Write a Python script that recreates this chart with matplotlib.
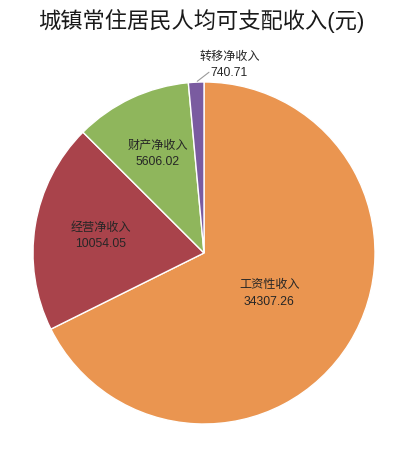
import numpy as np
import matplotlib
matplotlib.use('Agg')
import matplotlib.pyplot as plt

plt.rcParams['font.family'] = ['Liberation Sans', 'Noto Sans CJK SC', 'DejaVu Sans']

# data
categories = ['工资性收入', '经营净收入', '财产净收入', '转移净收入']
values = [34307.26, 10054.05, 5606.02, 740.71]
colors = ['#EA9550', '#A9434B', '#8FB65C', '#7A5BA0']
label_radius = [0.45, 0.61, 0.64]   # inside labels, fraction of radius

fig = plt.figure(figsize=(4, 4.5), dpi=100)
ax = fig.add_axes([0.0825, 0.0578, 0.855, 0.76])

wedges, _ = ax.pie(values, colors=colors, startangle=90, counterclock=False,
                   wedgeprops=dict(edgecolor='white', linewidth=1))
ax.set_xlim(-1, 1)
ax.set_ylim(-1, 1)
ax.set_aspect('equal')
ax.axis('off')

# labels inside the big slices
for w, cat, val, r in zip(wedges[:3], categories[:3], values[:3], label_radius):
    ang = np.deg2rad((w.theta1 + w.theta2) / 2)
    ax.text(r * np.cos(ang), r * np.sin(ang), f'{cat}\n{val:.2f}',
            ha='center', va='center', fontsize=8.7, color='#262626',
            linespacing=1.45)

# small slice: outside label plus a short leader line
w = wedges[3]
ang = np.deg2rad((w.theta1 + w.theta2) / 2)
edge = (np.cos(ang), np.sin(ang))
line_end = (edge[0] + 0.075, edge[1] + 0.058)
ax.annotate('', xy=edge, xytext=line_end, annotation_clip=False,
            arrowprops=dict(arrowstyle='-', color='#9a9a9a', lw=0.8,
                            shrinkA=0, shrinkB=1))
ax.text(line_end[0] + 0.12, line_end[1] + 0.04,
        f'{categories[3]}\n{values[3]:.2f}',
        ha='center', va='center', fontsize=8.7, color='#262626',
        linespacing=1.45, clip_on=False)

fig.text(0.503, 1 - 21 / 450, '城镇常住居民人均可支配收入(元)',
         ha='center', va='center', fontsize=16, color='#1a1a1a')

fig.savefig('out.png', dpi=100)
